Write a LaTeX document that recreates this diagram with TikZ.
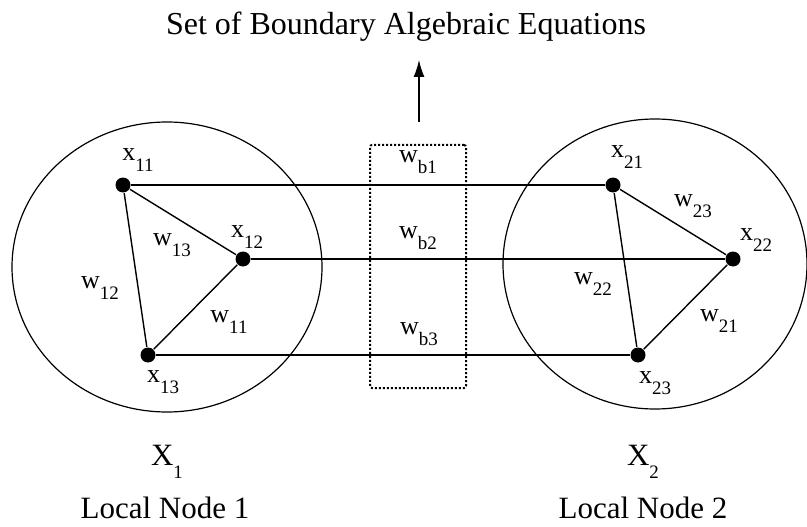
\documentclass[tikz,border=0pt]{standalone}
\usepackage{fontspec}
\setmainfont{Liberation Serif}
\usetikzlibrary{arrows.meta, shapes.geometric, positioning}

% variable with a lowered index
\newcommand{\varsub}[2]{#1\raisebox{-0.42em}{\fontsize{19}{19}\selectfont #2}}
\newcommand{\bigsub}[2]{#1\raisebox{-0.4em}{\fontsize{19}{19}\selectfont #2}}

\begin{document}
\begin{tikzpicture}[
  x=1pt, y=-1pt,
  line width=1.4pt,
  vtx/.style={circle, fill=black, inner sep=0pt, minimum size=15pt},
  region/.style={ellipse, draw, line width=1.2pt, inner sep=0pt},
  varlbl/.style={font=\fontsize{26}{28}\selectfont, inner sep=0pt},
  biglbl/.style={font=\fontsize{31}{33}\selectfont, inner sep=0pt},
  bndbox/.style={draw, dotted, line width=2pt, rounded corners=2pt},
  arrow/.style={-{Latex[length=17pt, width=11pt]}, line width=1.4pt}
]
\useasboundingbox (0,0) rectangle (807,527);

% ---------------- Local nodes ----------------
\node[region, minimum width=310pt, minimum height=290pt] (ln1) at (167,267) {};
\node[region, minimum width=304pt, minimum height=290pt] (ln2) at (655,264) {};

% ---------------- Boundary box ----------------
\node[bndbox, minimum width=96pt, minimum height=243pt] (bnd) at (418,266.5) {};

% ---------------- Vertices ----------------
\node[vtx] (x11) at (123,185) {};
\node[vtx] (x12) at (243,259) {};
\node[vtx] (x13) at (148,355) {};
\node[vtx] (x21) at (613,185) {};
\node[vtx] (x22) at (733,259) {};
\node[vtx] (x23) at (638,355) {};

% ---------------- Edges ----------------
\draw (x11) -- (x12) -- (x13) -- (x11);
\draw (x21) -- (x22) -- (x23) -- (x21);
\draw (x11) -- (x21);
\draw (x12) -- (x22);
\draw (x13) -- (x23);

% ---------------- Labels ----------------
\node[varlbl] (lx11) at (138,160) {\varsub{x}{11}};
\node[varlbl] (lx12) at (247,237) {\varsub{x}{12}};
\node[varlbl] (lx13) at (163,382) {\varsub{x}{13}};
\node[varlbl] (lw13) at (172,245) {\varsub{w}{13}};
\node[varlbl] (lw12) at (100,288) {\varsub{w}{12}};
\node[varlbl] (lw11) at (229,322) {\varsub{w}{11}};

\node[varlbl] (lx21) at (627,157) {\varsub{x}{21}};
\node[varlbl] (lx22) at (756,240) {\varsub{x}{22}};
\node[varlbl] (lx23) at (655,383) {\varsub{x}{23}};
\node[varlbl] (lw23) at (693,206) {\varsub{w}{23}};
\node[varlbl] (lw22) at (593,284) {\varsub{w}{22}};
\node[varlbl] (lw21) at (719,321) {\varsub{w}{21}};

\node[varlbl] (lwb1) at (418,162) {\varsub{w}{b1}};
\node[varlbl] (lwb2) at (418,238) {\varsub{w}{b2}};
\node[varlbl] (lwb3) at (419,334) {\varsub{w}{b3}};

\node[biglbl] (X1) at (167,462) {\bigsub{X}{1}};
\node[biglbl] (X2) at (643,462) {\bigsub{X}{2}};
\node[biglbl] (name1) at (165,508) {Local Node 1};
\node[biglbl] (name2) at (643,508) {Local Node 2};

% ---------------- Output ----------------
\node[biglbl, font=\fontsize{32}{34}\selectfont] (eqs) at (406,27) {Set of Boundary Algebraic Equations};
\coordinate (up) at (419,122);
\draw[arrow] (up) -- (up |- 0,60);

\end{tikzpicture}
\end{document}
